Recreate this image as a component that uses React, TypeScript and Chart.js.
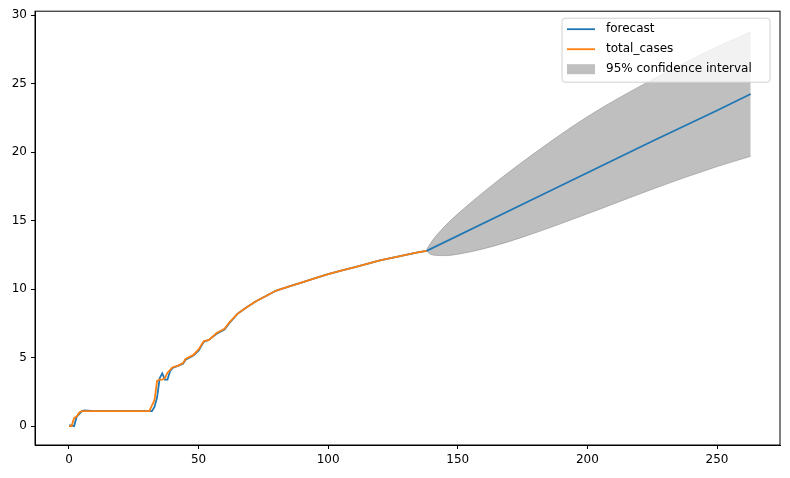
import { Chart, registerables } from "chart.js";
import { useEffect, useRef } from "react";
Chart.register(...registerables);

const totalCases: [number, number][] = [
  [0, 0], [1, 0], [2, 0.6], [3, 0.7], [4, 1.0], [5, 1.1], [6, 1.1], [10, 1.1], [20, 1.1],
  [31, 1.1], [32, 1.5], [33, 1.9], [34, 3.3], [35, 3.4], [36, 3.4], [37, 3.5], [38, 3.9],
  [40, 4.3], [42, 4.4], [44, 4.6], [45, 4.9], [48, 5.2], [50, 5.6], [52, 6.2], [54, 6.3],
  [57, 6.8], [60, 7.1], [62, 7.6], [65, 8.2], [68, 8.6], [72, 9.1], [76, 9.5], [80, 9.9],
  [85, 10.2], [90, 10.5], [95, 10.8], [100, 11.1], [105, 11.35], [110, 11.6], [115, 11.85],
  [120, 12.1], [125, 12.3], [130, 12.5], [135, 12.7], [138, 12.8],
];

const forecast: [number, number][] = [
  [0, 0.05], [1, 0.05], [2, 0], [3, 0.7], [4, 0.9], [5, 1.1], [6, 1.15], [10, 1.1], [20, 1.1],
  [31, 1.1], [32, 1.1], [33, 1.4], [34, 2.1], [35, 3.5], [36, 3.85], [37, 3.4], [38, 3.4],
  [39, 4.0], [40, 4.25], [42, 4.4], [44, 4.55], [45, 4.85], [48, 5.15], [50, 5.5], [52, 6.15],
  [54, 6.3], [57, 6.75], [60, 7.05], [62, 7.55], [65, 8.2], [68, 8.6], [72, 9.1], [76, 9.5],
  [80, 9.9], [85, 10.2], [90, 10.5], [95, 10.8], [100, 11.1], [105, 11.35], [110, 11.6],
  [115, 11.85], [120, 12.1], [125, 12.3], [130, 12.5], [135, 12.7], [138, 12.8],
  [175, 16.2], [200, 18.5], [225, 20.8], [250, 23.05], [263, 24.25],
];

const ciLower: [number, number][] = [
  [138, 12.8], [139, 12.6], [141, 12.48], [145, 12.45], [150, 12.55], [160, 12.95], [175, 13.8],
  [200, 15.5], [225, 17.3], [250, 18.95], [263, 19.7],
];
const ciUpper: [number, number][] = [
  [138, 12.9], [140, 13.5], [145, 14.6], [150, 15.5], [160, 17.1], [175, 19.3],
  [200, 22.6], [225, 25.3], [250, 27.7], [263, 28.8],
];

const xTicks = [0, 50, 100, 150, 200, 250];
const yTicks = [0, 5, 10, 15, 20, 25, 30];

const legendItems = [
  { text: "forecast", color: "#1f77b4", kind: "line" },
  { text: "total_cases", color: "#ff7f0e", kind: "line" },
  { text: "95% confidence interval", color: "rgba(128,128,128,0.5)", kind: "box" },
];

const pts = (a: [number, number][]) => a.map(([x, y]) => ({ x, y }));

const frame = {
  id: "frame",
  afterDraw(chart: Chart) {
    const { ctx, chartArea: a } = chart;
    ctx.save();
    ctx.strokeStyle = "#000";
    ctx.lineWidth = 1;
    ctx.strokeRect(a.left, a.top, a.right - a.left, a.bottom - a.top);
    // legend, top right
    const x0 = a.right - 218, y0 = a.top + 7, w = 208, h = 64;
    ctx.fillStyle = "rgba(255,255,255,0.8)";
    ctx.strokeStyle = "#d0d0d0";
    ctx.beginPath();
    ctx.roundRect(x0, y0, w, h, 3);
    ctx.fill();
    ctx.stroke();
    ctx.font = "12px 'DejaVu Sans'";
    ctx.textBaseline = "middle";
    legendItems.forEach((it, i) => {
      const yy = y0 + 11 + i * 20;
      if (it.kind === "line") {
        ctx.strokeStyle = it.color;
        ctx.lineWidth = 1.8;
        ctx.beginPath();
        ctx.moveTo(x0 + 5, yy);
        ctx.lineTo(x0 + 33, yy);
        ctx.stroke();
      } else {
        ctx.fillStyle = it.color;
        ctx.fillRect(x0 + 5, yy - 5, 28, 10);
      }
      ctx.fillStyle = "#000";
      ctx.fillText(it.text, x0 + 44, yy);
    });
    ctx.restore();
  },
};

const App = () => {
  const ref = useRef<null | HTMLCanvasElement>(null);
  useEffect(() => {
    document.body.style.margin = "0";
    if (!ref.current) return;
    const ctx = ref.current.getContext("2d");
    if (!ctx) throw new Error("Canvas Error: Ctx not available");
    const font = { family: "DejaVu Sans", size: 12 };
    const ci = "rgba(128,128,128,0.5)";
    const chart = new Chart(ctx, {
      type: "line",
      data: {
        datasets: [
          { label: "forecast", data: pts(forecast), borderColor: "#1f77b4", borderWidth: 1.8, pointRadius: 0, fill: false, order: 1 },
          { label: "total_cases", data: pts(totalCases), borderColor: "#ff7f0e", borderWidth: 1.8, pointRadius: 0, fill: false, order: 0 },
          { label: "lower", data: pts(ciLower), borderColor: ci, borderWidth: 1, pointRadius: 0, fill: false, order: 2, cubicInterpolationMode: "monotone" },
          {
            label: "95% confidence interval", data: pts(ciUpper), borderColor: ci, borderWidth: 1,
            backgroundColor: ci, pointRadius: 0, fill: "-1", order: 2, cubicInterpolationMode: "monotone",
          },
        ],
      },
      options: {
        animation: false,
        responsive: true,
        maintainAspectRatio: false,
        layout: { padding: { left: 0, right: 10, top: 10, bottom: 0 } },
        plugins: { tooltip: { enabled: false }, legend: { display: false } },
        scales: {
          x: {
            type: "linear",
            min: -13.1,
            max: 274.3,
            afterFit: (s: any) => { s.height = 33; },
            afterBuildTicks: (s: any) => { s.ticks = xTicks.map((v) => ({ value: v })); },
            grid: { drawOnChartArea: false, tickLength: 4, color: "#000" },
            border: { color: "#000" },
            ticks: { font, color: "#000", padding: 4 },
          },
          y: {
            min: -1.38,
            max: 30.3,
            afterFit: (s: any) => { s.width = 35; },
            afterBuildTicks: (s: any) => { s.ticks = yTicks.map((v) => ({ value: v })); },
            grid: { drawOnChartArea: false, tickLength: 4, color: "#000" },
            border: { color: "#000" },
            ticks: { font, color: "#000", padding: 4 },
          },
        },
      },
      plugins: [frame],
    });
    return () => chart.destroy();
  }, []);

  return (
    <div style={{ position: "relative", width: 790, height: 478 }}>
      <canvas ref={ref}></canvas>
    </div>
  );
};

export default App;
